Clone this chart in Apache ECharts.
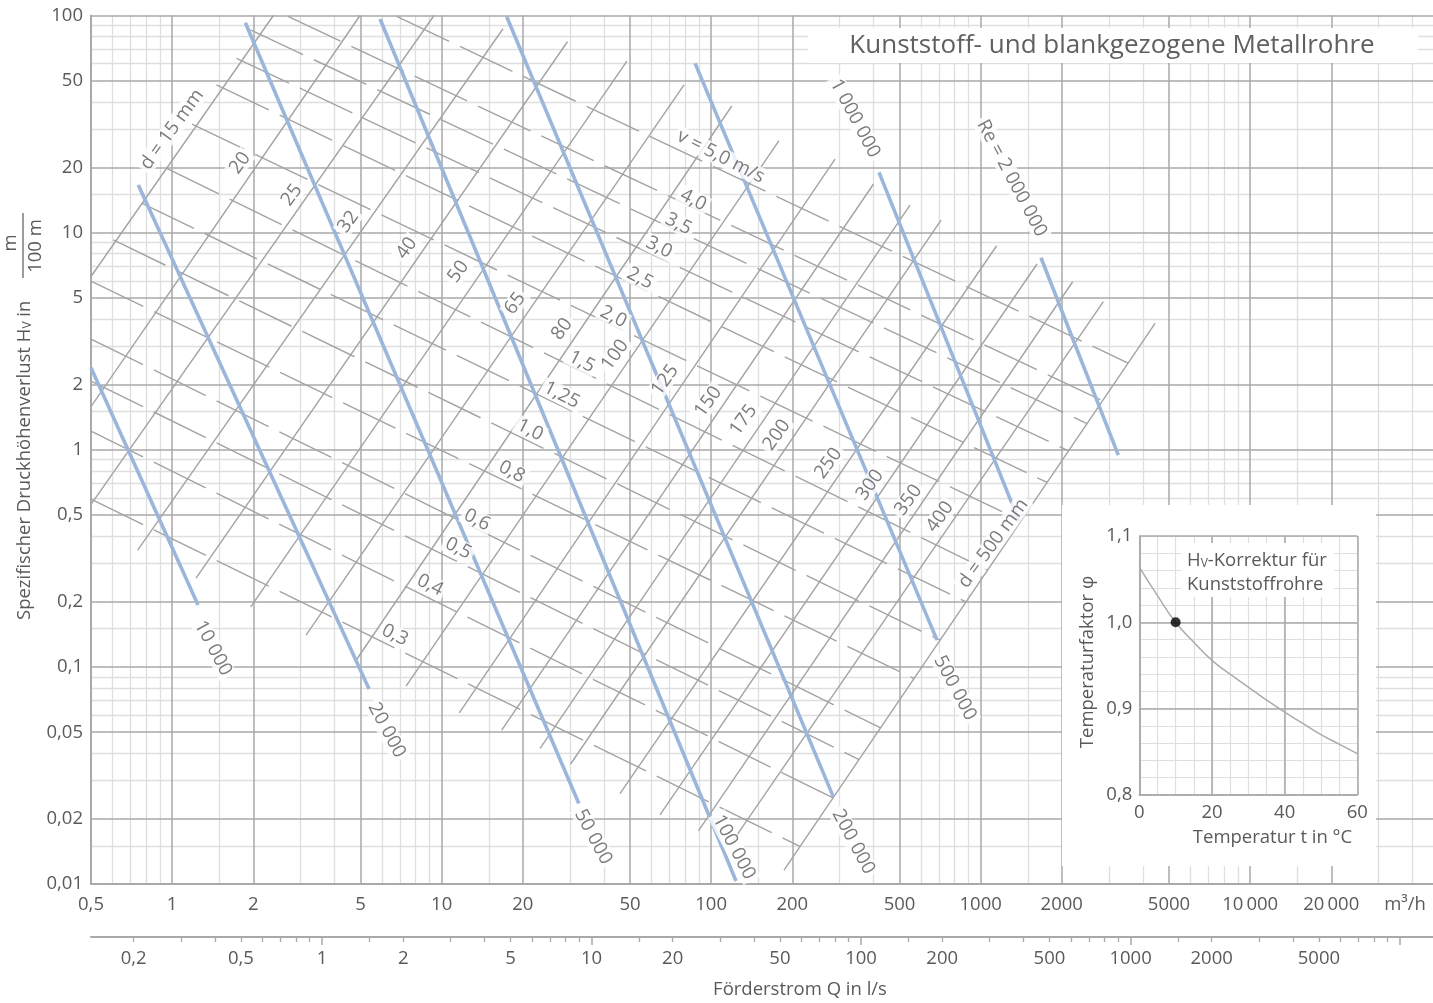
<!DOCTYPE html>
<html>
<head>
<meta charset="utf-8">
<script src="https://cdn.jsdelivr.net/npm/echarts@6.0.0/dist/echarts.min.js"></script>
<style>
html,body{margin:0;padding:0;background:#ffffff;}
#chart{width:1433px;height:1003px;}
</style>
</head>
<body>
<div id="chart"></div>
<script>
// ================= DATA =================
// axis tick values
const qTickLabels = [0.5,1,2,5,10,20,50,100,200,500,1000,2000,5000,10000,20000];
const qMinorGrid  = [0.6,0.7,0.8,0.9,1.5,3,4,6,7,8,9,15,30,40,60,70,80,90,150,300,400,600,700,800,900,1500,3000,4000,6000,7000,8000,9000,15000,30000,40000];
const hTickLabels = [0.01,0.02,0.05,0.1,0.2,0.5,1,2,5,10,20,50,100];
const hMinorGrid  = [0.015,0.03,0.04,0.06,0.07,0.08,0.09,0.15,0.3,0.4,0.6,0.7,0.8,0.9,1.5,3,4,6,7,8,9,15,30,40,60,70,80,90];
const lsTickLabels = [0.2,0.5,1,2,5,10,20,50,100,200,500,1000,2000,5000];
const lsMinorTicks = [0.2,0.3,0.4,0.5,0.6,0.7,0.8,0.9,1.5,2,3,4,5,6,7,8,9,15,20,30,40,50,60,70,80,90,150,200,300,400,500,600,700,800,900,1500,2000,3000,4000,5000,6000,7000,8000,9000];
const lsMajorTicks = [1,10,100,1000,10000];

// pipe diameter lines: [[Q start m3/h, Hv start], [Q end, Hv end]]
const diameterNames = ['d = 15 mm','20','25','32','40','50','65','80','100','125','150','175','200','250','300','350','400','d = 500 mm'];
const diameterLines = [
  [[0.5,6.28],[2.375,100]],
  [[0.5,1.58],[4.98,100]],
  [[0.5,0.56],[9.37,100]],
  [[0.745,0.345],[16.9,86.9]],
  [[1.227,0.2565],[29.3,75.7]],
  [[1.957,0.189],[48.7,61.7]],
  [[3.14,0.140],[79.3,47.9]],
  [[4.81,0.107],[119.3,38.3]],
  [[7.38,0.0816],[178.6,26.5]],
  [[11.63,0.0614],[288.3,21.8]],
  [[16.71,0.0511],[399.9,16.7]],
  [[23.2,0.0421],[547,13.4]],
  [[30.1,0.0357],[713,11.43]],
  [[45.9,0.0261],[1147,8.70]],
  [[64.6,0.0208],[1619,7.17]],
  [[89.7,0.01758],[2196,5.94]],
  [[117.5,0.0151],[2853,4.81]],
  [[186.4,0.01159],[4438,3.82]]
];

// flow velocity lines (dashed)
const velocityNames = ['0,3','0,4','0,5','0,6','0,8','1,0','1,25','1,5','2,0','2,5','3,0','3,5','4,0','v = 5,0 m/s'];
const velocityLines = [
  [[0.5,0.593],[213.7,0.01489]],
  [[0.5,1.219],[283.5,0.0249]],
  [[0.5,2.072],[353.9,0.0374]],
  [[0.5,3.235],[425.3,0.0524]],
  [[0.5,5.98],[566.1,0.0884]],
  [[0.605,9.25],[706.9,0.1327]],
  [[0.771,13.69],[882.9,0.1992]],
  [[0.955,19.78],[1061,0.2789]],
  [[1.185,31.6],[1412,0.471]],
  [[1.461,47.9],[1764,0.707]],
  [[1.734,63.5],[2120,0.989]],
  [[1.954,85.8],[2482,1.320]],
  [[2.692,99],[2834,1.684]],
  [[6.815,99],[3524,2.508]]
];

// Reynolds number lines (blue)
const reynoldsNames = ['10 000','20 000','50 000','100 000','200 000','500 000','1 000 000','Re = 2 000 000'];
const reynoldsLines = [
  [[0.5,2.387],[1.248,0.1926]],
  [[0.749,16.57],[5.38,0.0790]],
  [[1.869,92.6],[32.3,0.0235]],
  [[5.91,96.4],[123.7,0.01032]],
  [[17.44,98.7],[284.1,0.0252]],
  [[87.2,60.2],[689,0.1328]],
  [[419.7,18.95],[1388,0.4694]],
  [[1675,7.66],[3243,0.945]]
];

// where the line labels sit (Q, Hv)
const diameterLabelAt = [[0.999,29.9],[1.786,20.9],[2.779,14.9],[4.507,11.22],[7.42,8.47],[11.53,6.61],[18.73,4.72],[27.97,3.60],[44.0,2.731],[67.4,2.094],[97.6,1.664],[131.7,1.370],[175.1,1.169],[272.2,0.866],[388.6,0.688],[539.2,0.5865],[707,0.491],[1114,0.3706]];
const velocityLabelAt = [[6.71,0.140],[9.06,0.238],[11.53,0.3514],[13.53,0.4745],[18.2,0.792],[21.3,1.232],[27.9,1.786],[33.1,2.543],[43.4,4.10],[54.5,6.16],[64.1,8.55],[75.6,10.95],[85.9,14.13],[108.6,22.37]];
const reynoldsLabelAt = [[1.418,0.122],[6.26,0.0511],[36.5,0.0165],[121.6,0.01479],[337,0.01565],[803.5,0.0799],[342,33.6],[1304,17.79]];

// inset: temperature correction factor
const tempC = [0,5,10,15,20,25,30,35,40,45,50,55,60];
const phiFactor = [1.064,1.031,1.000,0.977,0.956,0.940,0.925,0.910,0.896,0.883,0.870,0.859,0.848];
const refPoint = [10,1.0];

// ================= STYLE =================
const FONT = 'Open Sans';
const TXT = '#5a5a5a';
const MAJ = '#a9a9a9';
const MINC = '#dfdfdf';
const LGRAY = '#a3a3a3';
const BLUE = '#9cb6da';
const QMIN = 0.5, QMAX = 47700;

function deNum(v){
  if (v >= 10000) { const s = String(v); return s.slice(0, s.length-3) + '\u2009' + s.slice(-3); }
  return String(v).replace('.', ',');
}

const chart = echarts.init(document.getElementById('chart'), null, {renderer:'canvas', width:1433, height:1003});

const series = [];
diameterLines.forEach((ln,i)=>series.push({
  type:'line', name:'d'+i, xAxisIndex:0, yAxisIndex:0, data:ln, symbol:'none', silent:true, z:2,
  lineStyle:{color:LGRAY, width:1.4}
}));
velocityLines.forEach((ln,i)=>series.push({
  type:'line', name:'v'+i, xAxisIndex:0, yAxisIndex:0, data:ln, symbol:'none', silent:true, z:2,
  lineStyle:{color:LGRAY, width:1.4, type:[58,12]}
}));
reynoldsLines.forEach((ln,i)=>series.push({
  type:'line', name:'re'+i, xAxisIndex:0, yAxisIndex:0, data:ln, symbol:'none', silent:true, z:3,
  lineStyle:{color:BLUE, width:3.6}
}));

const labelItems = [];
diameterLabelAt.forEach((p,i)=>labelItems.push({value:p, label:{formatter:diameterNames[i], rotate:54}}));
velocityLabelAt.forEach((p,i)=>labelItems.push({value:p, label:{formatter:velocityNames[i], rotate:-27}}));
reynoldsLabelAt.forEach((p,i)=>labelItems.push({value:p, label:{formatter:reynoldsNames[i], rotate:-62}}));
series.push({
  type:'scatter', name:'labels', xAxisIndex:0, yAxisIndex:0, data:labelItems, symbolSize:0, silent:true, z:10,
  itemStyle:{color:'rgba(0,0,0,0)'},
  label:{show:true, position:'inside', color:TXT, fontSize:19, fontFamily:FONT, backgroundColor:'#ffffff', padding:[0,3], align:'center', verticalAlign:'middle'}
});

// inset series
series.push({
  type:'line', name:'phi', xAxisIndex:4, yAxisIndex:3, data:tempC.map((t,i)=>[t,phiFactor[i]]),
  symbol:'none', smooth:true, silent:true, z:8, lineStyle:{color:'#ababab', width:1.5}
});
series.push({
  type:'scatter', name:'ref', xAxisIndex:4, yAxisIndex:3, data:[refPoint], symbolSize:10, silent:true, z:9,
  itemStyle:{color:'#000'}
});

const axisLabelStyle = {color:TXT, fontSize:18.5, fontFamily:FONT};

const option = {
  animation:false,
  backgroundColor:'#ffffff',
  grid:[
    {left:91, top:15.5, width:1342, height:868.5},
    {left:91, top:936, width:1342, height:1},
    {left:1139.3, top:536, width:218, height:259}
  ],
  xAxis:[
    {gridIndex:0, type:'log', position:'bottom', min:QMIN, max:QMAX, z:1,
     axisLine:{show:true, onZero:false, lineStyle:{color:MAJ, width:2}},
     axisTick:{show:false, customValues:qTickLabels},
     axisLabel:Object.assign({customValues:qTickLabels, margin:11, formatter:v=>deNum(v)}, axisLabelStyle),
     splitLine:{show:true, lineStyle:{color:MAJ, width:1.5}}},
    {gridIndex:0, type:'log', position:'bottom', min:QMIN, max:QMAX, z:0,
     axisLine:{show:false}, axisLabel:{show:false},
     axisTick:{show:false, customValues:qMinorGrid},
     splitLine:{show:true, lineStyle:{color:MINC, width:1.3}}},
    {gridIndex:1, type:'log', position:'bottom', min:QMIN/3.6, max:QMAX/3.6,
     axisLine:{show:true, onZero:false, lineStyle:{color:MAJ, width:2}},
     axisTick:{show:true, customValues:lsMinorTicks, length:5, lineStyle:{color:MAJ, width:1.3}},
     axisLabel:Object.assign({customValues:lsTickLabels, margin:12, formatter:v=>deNum(v)}, axisLabelStyle),
     splitLine:{show:false}},
    {gridIndex:1, type:'log', position:'bottom', min:QMIN/3.6, max:QMAX/3.6,
     axisLine:{show:false}, axisLabel:{show:false},
     axisTick:{show:true, customValues:lsMajorTicks, length:8, lineStyle:{color:MAJ, width:1.5}},
     splitLine:{show:false}},
    {gridIndex:2, type:'value', position:'bottom', min:0, max:60, interval:20, z:7,
     axisLine:{show:true, lineStyle:{color:MAJ, width:1.5}}, axisTick:{show:false},
     axisLabel:Object.assign({margin:8}, axisLabelStyle),
     splitLine:{show:true, lineStyle:{color:MAJ, width:1.5}}},
    {gridIndex:2, type:'value', position:'bottom', min:0, max:60, interval:5, z:6,
     axisLine:{show:false}, axisTick:{show:false}, axisLabel:{show:false},
     splitLine:{show:true, lineStyle:{color:MINC, width:1.2}}}
  ],
  yAxis:[
    {gridIndex:0, type:'log', position:'left', min:0.01, max:100, z:1,
     axisLine:{show:true, onZero:false, lineStyle:{color:MAJ, width:2}},
     axisTick:{show:false, customValues:hTickLabels},
     axisLabel:Object.assign({customValues:hTickLabels, margin:8, formatter:v=>deNum(v)}, axisLabelStyle),
     splitLine:{show:true, lineStyle:{color:MAJ, width:1.5}}},
    {gridIndex:0, type:'log', position:'left', min:0.01, max:100, z:0,
     axisLine:{show:false}, axisLabel:{show:false},
     axisTick:{show:false, customValues:hMinorGrid},
     splitLine:{show:true, lineStyle:{color:MINC, width:1.3}}},
    {gridIndex:1, type:'value', show:false},
    {gridIndex:2, type:'value', position:'left', min:0.8, max:1.1, interval:0.1, z:7,
     axisLine:{show:true, lineStyle:{color:MAJ, width:1.5}}, axisTick:{show:false},
     axisLabel:Object.assign({margin:7, formatter:v=>v.toFixed(1).replace('.',',')}, axisLabelStyle),
     splitLine:{show:true, lineStyle:{color:MAJ, width:1.5}}},
    {gridIndex:2, type:'value', position:'left', min:0.8, max:1.1, interval:0.02, z:6,
     axisLine:{show:false}, axisTick:{show:false}, axisLabel:{show:false},
     splitLine:{show:true, lineStyle:{color:MINC, width:1.2}}}
  ],
  graphic:[
    // title box
    {type:'rect', z:5, shape:{x:808, y:28, width:610, height:35}, style:{fill:'#ffffff'}},
    {type:'text', z:6, x:1112, y:46, style:{text:'Kunststoff- und blankgezogene Metallrohre', fontSize:26, fontFamily:FONT, fill:'#606060', align:'center', verticalAlign:'middle'}},
    // y axis title
    {type:'group', x:22, y:620, rotation:Math.PI/2, children:[
      {type:'text', x:0, y:0, style:{text:'{a|Spezifischer Druckhöhenverlust H}{s|V}{a| in}', fill:TXT, fontFamily:FONT, align:'left', verticalAlign:'middle',
        rich:{a:{fontSize:18.5, fontFamily:FONT, fill:TXT, lineHeight:24, verticalAlign:'bottom'}, s:{fontSize:12, fontFamily:FONT, fill:TXT, lineHeight:12, verticalAlign:'bottom'}}}},
      {type:'text', x:377, y:-11, style:{text:'m', fontSize:18.5, fontFamily:FONT, fill:TXT, align:'center', verticalAlign:'middle'}},
      {type:'line', shape:{x1:342, y1:1, x2:407, y2:1}, style:{stroke:TXT, lineWidth:1.2}},
      {type:'text', x:374, y:13.5, style:{text:'100 m', fontSize:18.5, fontFamily:FONT, fill:TXT, align:'center', verticalAlign:'middle'}}
    ]},
    // unit and l/s axis title
    {type:'text', x:1405, y:905, style:{text:'m³/h', fontSize:18.5, fontFamily:FONT, fill:TXT, align:'center', verticalAlign:'middle'}},
    {type:'text', x:800, y:990, style:{text:'Förderstrom Q in l/s', fontSize:18.5, fontFamily:FONT, fill:TXT, align:'center', verticalAlign:'middle'}},
    // inset panel
    {type:'rect', z:5, shape:{x:1062, y:505, width:314, height:361}, style:{fill:'#ffffff'}},
    {type:'text', z:8, x:1272.5, y:838, style:{text:'Temperatur t in °C', fontSize:18.5, fontFamily:FONT, fill:TXT, align:'center', verticalAlign:'middle'}},
    {type:'text', z:8, x:1088, y:662, rotation:Math.PI/2, style:{text:'Temperaturfaktor φ', fontSize:18.5, fontFamily:FONT, fill:TXT, align:'center', verticalAlign:'middle'}},
    {type:'rect', z:8, shape:{x:1181, y:543, width:153, height:54}, style:{fill:'#ffffff'}},
    {type:'text', z:9, x:1187, y:558, style:{text:'{a|H}{s|V}{a|-Korrektur für}', fill:TXT, fontFamily:FONT, align:'left', verticalAlign:'middle',
      rich:{a:{fontSize:18.5, fontFamily:FONT, fill:TXT, lineHeight:24, verticalAlign:'bottom'}, s:{fontSize:12, fontFamily:FONT, fill:TXT, lineHeight:12, verticalAlign:'bottom'}}}},
    {type:'text', z:9, x:1187, y:585, style:{text:'Kunststoffrohre', fontSize:18.5, fontFamily:FONT, fill:TXT, align:'left', verticalAlign:'middle'}}
  ],
  series:series
};
chart.setOption(option);
</script>
</body>
</html>
